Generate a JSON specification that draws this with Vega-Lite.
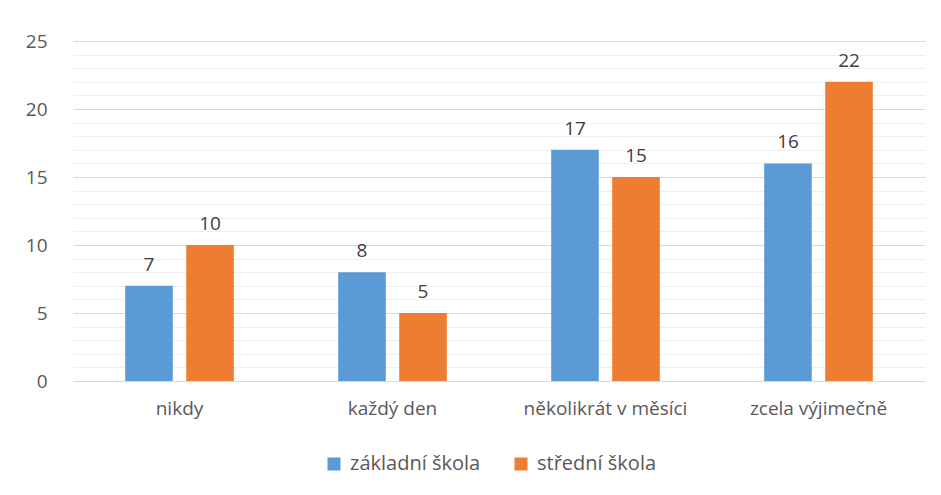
{
  "$schema": "https://vega.github.io/schema/vega-lite/v6.json",
  "width": 852,
  "height": 340,
  "padding": {"left": 25, "top": 32, "right": 16, "bottom": 20},
  "background": "white",
  "config": {
    "view": {"stroke": null},
    "font": "Open Sans",
    "axis": {"labelFont": "Open Sans", "labelColor": "#595959", "labelFontSize": 19},
    "legend": {"labelFont": "Open Sans", "labelColor": "#595959", "labelFontSize": 20}
  },
  "data": {
    "values": [
      {"kategorie": "nikdy", "skola": "základní škola", "pocet": 7},
      {"kategorie": "nikdy", "skola": "střední škola", "pocet": 10},
      {"kategorie": "každý den", "skola": "základní škola", "pocet": 8},
      {"kategorie": "každý den", "skola": "střední škola", "pocet": 5},
      {"kategorie": "několikrát v měsíci", "skola": "základní škola", "pocet": 17},
      {"kategorie": "několikrát v měsíci", "skola": "střední škola", "pocet": 15},
      {"kategorie": "zcela výjimečně", "skola": "základní škola", "pocet": 16},
      {"kategorie": "zcela výjimečně", "skola": "střední škola", "pocet": 22}
    ]
  },
  "encoding": {
    "x": {
      "field": "kategorie", "type": "nominal",
      "sort": ["nikdy", "každý den", "několikrát v měsíci", "zcela výjimečně"],
      "scale": {"paddingInner": 0.49, "paddingOuter": 0.245},
      "axis": {"title": null, "labelAngle": 0, "ticks": false, "domain": true, "domainColor": "#d9d9d9", "labelPadding": 18, "grid": false}
    },
    "xOffset": {
      "field": "skola", "type": "nominal",
      "sort": ["základní škola", "střední škola"],
      "scale": {"paddingInner": 0.22}
    },
    "y": {
      "field": "pocet", "type": "quantitative",
      "scale": {"domain": [0, 25], "nice": false},
      "axis": {
        "title": null,
        "values": [0,1,2,3,4,5,6,7,8,9,10,11,12,13,14,15,16,17,18,19,20,21,22,23,24,25],
        "labelExpr": "datum.value % 5 == 0 ? datum.label : ''",
        "ticks": false, "domain": false, "labelPadding": 26,
        "grid": true,
        "gridColor": {"condition": {"test": "datum.value % 5 == 0", "value": "#d9d9d9"}, "value": "#efefef"},
        "gridWidth": 1.2
      }
    }
  },
  "layer": [
    {
      "mark": {"type": "bar"},
      "encoding": {
        "color": {
          "field": "skola", "type": "nominal",
          "sort": ["základní škola", "střední škola"],
          "scale": {"domain": ["základní škola", "střední škola"], "range": ["#5B9BD5", "#ED7D31"]},
          "legend": {"title": null, "orient": "none", "legendX": 251, "legendY": 413, "direction": "horizontal", "symbolType": "square", "symbolSize": 169, "symbolStrokeWidth": 0, "labelOffset": 6, "columnPadding": 30}
        }
      }
    },
    {
      "mark": {"type": "text", "baseline": "bottom", "dy": -11, "fontSize": 19, "color": "#404040", "font": "Open Sans"},
      "encoding": {"text": {"field": "pocet", "type": "quantitative"}}
    }
  ]
}
